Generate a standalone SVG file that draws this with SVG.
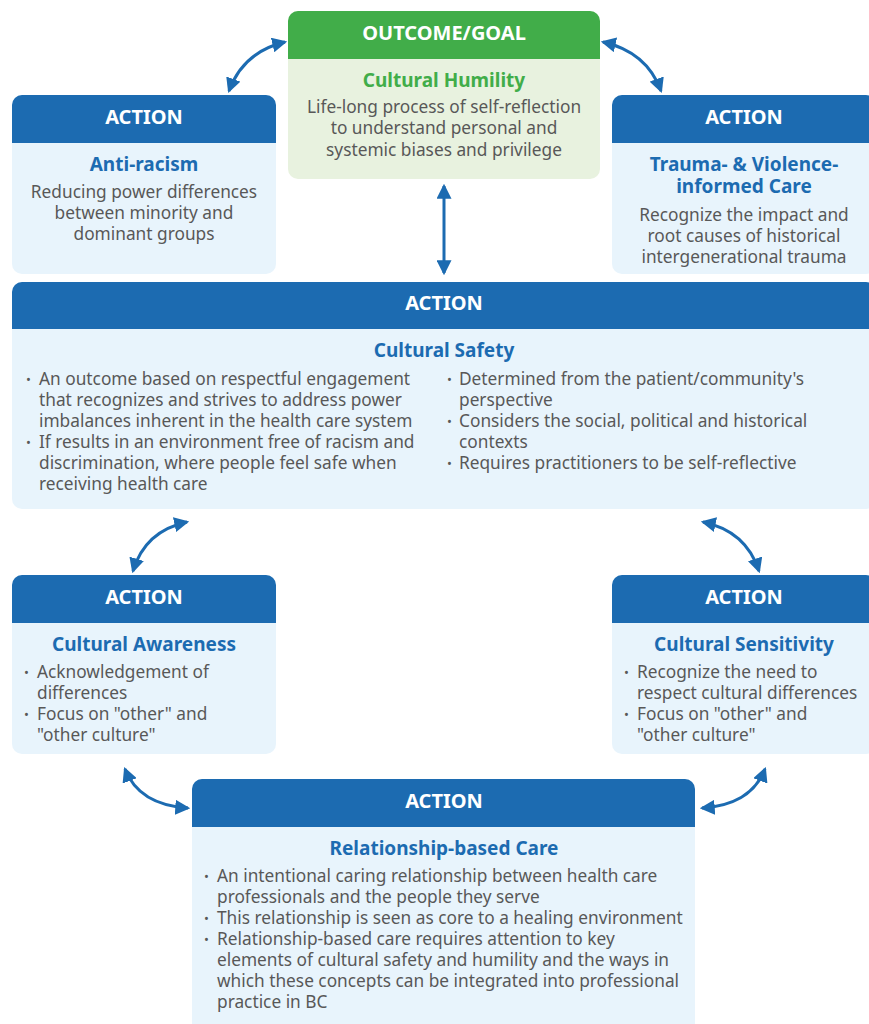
<svg xmlns="http://www.w3.org/2000/svg" width="869" height="1024" viewBox="0 0 869 1024">
  <style>
    .hdr { fill: #1c6bb1; }
    .body { fill: #e8f4fc; }
    .ghdr { fill: #41ad49; }
    .gbody { fill: #e8f2df; }
    .htxt { font-family: "Noto Sans", "Open Sans", sans-serif; font-weight: 700; font-size: 20px; fill: #ffffff; text-anchor: middle; }
    .ttl { font-family: "Noto Sans", "Open Sans", sans-serif; font-weight: 700; font-size: 19px; fill: #1c6bb1; text-anchor: middle; }
    .gttl { fill: #41ad49; }
    .txt { font-family: "Noto Sans", "Open Sans", sans-serif; font-size: 17.3px; fill: #585858; }
    .mid { text-anchor: middle; }
    .bul { font-family: "Noto Sans", "Open Sans", sans-serif; font-size: 13px; fill: #585858; }
    .conn { fill: none; stroke: #1c6bb1; stroke-width: 3; }
  </style>
  <defs>
    <marker id="head" viewBox="0 0 10 10" refX="8.5" refY="5" markerWidth="15" markerHeight="15" markerUnits="userSpaceOnUse" orient="auto-start-reverse">
      <path d="M0,0 L10,5 L0,10 z" fill="#1c6bb1"/>
    </marker>
  </defs>

  <rect width="869" height="1024" fill="#ffffff"/>

  <!-- Outcome / goal -->
  <g id="cultural-humility">
    <rect class="gbody" x="288" y="11" width="312" height="168" rx="10"/>
    <path class="ghdr" d="M288,59 V21 A10,10 0 0 1 298,11 H590 A10,10 0 0 1 600,21 V59 Z"/>
    <text class="htxt" x="444" y="40">OUTCOME/GOAL</text>
    <text class="ttl gttl" x="444" y="87">Cultural Humility</text>
    <text class="txt mid" x="444" y="113">Life-long process of self-reflection</text>
    <text class="txt mid" x="444" y="134">to understand personal and</text>
    <text class="txt mid" x="444" y="156">systemic biases and privilege</text>
  </g>

  <!-- Anti-racism -->
  <g id="anti-racism">
    <rect class="body" x="12" y="95" width="264" height="179" rx="10"/>
    <path class="hdr" d="M12,143 V105 A10,10 0 0 1 22,95 H266 A10,10 0 0 1 276,105 V143 Z"/>
    <text class="htxt" x="144" y="124">ACTION</text>
    <text class="ttl" x="144" y="171">Anti-racism</text>
    <text class="txt mid" x="144" y="198">Reducing power differences</text>
    <text class="txt mid" x="144" y="219">between minority and</text>
    <text class="txt mid" x="144" y="240">dominant groups</text>
  </g>

  <!-- Trauma- and violence-informed care -->
  <g id="trauma-violence-informed-care">
    <rect class="body" x="612" y="95" width="264" height="179" rx="10"/>
    <path class="hdr" d="M612,143 V105 A10,10 0 0 1 622,95 H866 A10,10 0 0 1 876,105 V143 Z"/>
    <text class="htxt" x="744" y="124">ACTION</text>
    <text class="ttl" x="744" y="171">Trauma- &amp; Violence-</text>
    <text class="ttl" x="744" y="193">informed Care</text>
    <text class="txt mid" x="744" y="221">Recognize the impact and</text>
    <text class="txt mid" x="744" y="242">root causes of historical</text>
    <text class="txt mid" x="744" y="263">intergenerational trauma</text>
  </g>

  <!-- Cultural safety -->
  <g id="cultural-safety">
    <rect class="body" x="12" y="282" width="864" height="227" rx="10"/>
    <path class="hdr" d="M12,329 V292 A10,10 0 0 1 22,282 H866 A10,10 0 0 1 876,292 V329 Z"/>
    <text class="htxt" x="444" y="310">ACTION</text>
    <text class="ttl" x="444" y="357">Cultural Safety</text>
    <text class="bul" x="26" y="384">•</text>
    <text class="txt" x="39" y="385">An outcome based on respectful engagement</text>
    <text class="txt" x="39" y="406">that recognizes and strives to address power</text>
    <text class="txt" x="39" y="427">imbalances inherent in the health care system</text>
    <text class="bul" x="26" y="447">•</text>
    <text class="txt" x="39" y="448">If results in an environment free of racism and</text>
    <text class="txt" x="39" y="469">discrimination, where people feel safe when</text>
    <text class="txt" x="39" y="490">receiving health care</text>
    <text class="bul" x="447" y="384">•</text>
    <text class="txt" x="459" y="385">Determined from the patient/community's</text>
    <text class="txt" x="459" y="406">perspective</text>
    <text class="bul" x="447" y="426">•</text>
    <text class="txt" x="459" y="427">Considers the social, political and historical</text>
    <text class="txt" x="459" y="448">contexts</text>
    <text class="bul" x="447" y="468">•</text>
    <text class="txt" x="459" y="469">Requires practitioners to be self-reflective</text>
  </g>

  <!-- Cultural awareness -->
  <g id="cultural-awareness">
    <rect class="body" x="12" y="575" width="264" height="179" rx="10"/>
    <path class="hdr" d="M12,623 V585 A10,10 0 0 1 22,575 H266 A10,10 0 0 1 276,585 V623 Z"/>
    <text class="htxt" x="144" y="604">ACTION</text>
    <text class="ttl" x="144" y="651">Cultural Awareness</text>
    <text class="bul" x="24" y="677">•</text>
    <text class="txt" x="37" y="678">Acknowledgement of</text>
    <text class="txt" x="37" y="699">differences</text>
    <text class="bul" x="24" y="719">•</text>
    <text class="txt" x="37" y="720">Focus on "other" and</text>
    <text class="txt" x="37" y="741">"other culture"</text>
  </g>

  <!-- Cultural sensitivity -->
  <g id="cultural-sensitivity">
    <rect class="body" x="612" y="575" width="264" height="179" rx="10"/>
    <path class="hdr" d="M612,623 V585 A10,10 0 0 1 622,575 H866 A10,10 0 0 1 876,585 V623 Z"/>
    <text class="htxt" x="744" y="604">ACTION</text>
    <text class="ttl" x="744" y="651">Cultural Sensitivity</text>
    <text class="bul" x="624" y="677">•</text>
    <text class="txt" x="637" y="678">Recognize the need to</text>
    <text class="txt" x="637" y="699">respect cultural differences</text>
    <text class="bul" x="624" y="719">•</text>
    <text class="txt" x="637" y="720">Focus on "other" and</text>
    <text class="txt" x="637" y="741">"other culture"</text>
  </g>

  <!-- Relationship-based care -->
  <g id="relationship-based-care">
    <rect class="body" x="192" y="779" width="503" height="260" rx="10"/>
    <path class="hdr" d="M192,827 V789 A10,10 0 0 1 202,779 H685 A10,10 0 0 1 695,789 V827 Z"/>
    <text class="htxt" x="444" y="808">ACTION</text>
    <text class="ttl" x="444" y="855">Relationship-based Care</text>
    <text class="bul" x="204" y="881">•</text>
    <text class="txt" x="217" y="882">An intentional caring relationship between health care</text>
    <text class="txt" x="217" y="903">professionals and the people they serve</text>
    <text class="bul" x="204" y="923">•</text>
    <text class="txt" x="217" y="924">This relationship is seen as core to a healing environment</text>
    <text class="bul" x="204" y="944">•</text>
    <text class="txt" x="217" y="945">Relationship-based care requires attention to key</text>
    <text class="txt" x="217" y="966">elements of cultural safety and humility and the ways in</text>
    <text class="txt" x="217" y="987">which these concepts can be integrated into professional</text>
    <text class="txt" x="217" y="1008">practice in BC</text>
  </g>

  <!-- Connectors: two-way arrows -->
  <g id="connectors">
    <path class="conn" d="M229,91 Q243,52 285,42" marker-start="url(#head)" marker-end="url(#head)"/>
    <path class="conn" d="M603,42 Q647,52 661,91" marker-start="url(#head)" marker-end="url(#head)"/>
    <path class="conn" d="M444,186 L444,273" marker-start="url(#head)" marker-end="url(#head)"/>
    <path class="conn" d="M187,522 Q145,531 133,571" marker-start="url(#head)" marker-end="url(#head)"/>
    <path class="conn" d="M703,522 Q746,531 759,571" marker-start="url(#head)" marker-end="url(#head)"/>
    <path class="conn" d="M125,769 Q139,805 188,808" marker-start="url(#head)" marker-end="url(#head)"/>
    <path class="conn" d="M765,769 Q751,805 702,808" marker-start="url(#head)" marker-end="url(#head)"/>
  </g>
</svg>
